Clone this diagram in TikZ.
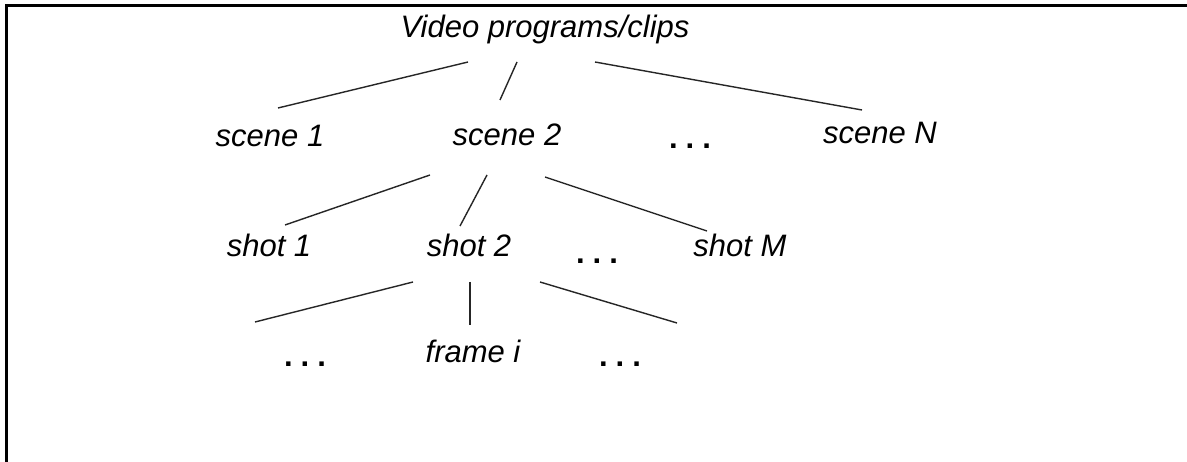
\documentclass[tikz,border=0pt]{standalone}
\usepackage{fontspec}
\setmainfont{Liberation Sans}
\begin{document}
\begin{tikzpicture}[x=1pt,y=-1pt,
  lbl/.style={anchor=base,inner sep=0pt,font=\fontsize{31}{33}\selectfont\itshape},
  dots/.style={anchor=base,inner sep=0pt,font=\fontsize{31}{33}\selectfont\bfseries},
  edge/.style={line width=1.4pt,black!85}]
\useasboundingbox (0,0) rectangle (1187,462);
\fill[white] (0,0) rectangle (1187,462);
\coordinate (tl) at (6,6);
\coordinate (tr) at (1187,6);
\coordinate (bl) at (6,462);
\draw[line width=3pt,line cap=rect] (tr) -- (tl) -- (bl);
% nodes
\node[lbl] (title) at (545,38) {Video programs/clips};
\node[lbl] (s1) at (270,147) {scene 1};
\node[lbl] (s2) at (507,146) {scene 2};
\node[dots] (sd) at (690,149) {.\kern8pt.\kern8pt.};
\node[lbl] (sN) at (880,144) {scene N};
\node[lbl] (h1) at (269,257) {shot 1};
\node[lbl] (h2) at (469,257) {shot 2};
\node[dots] (hd) at (597,264) {.\kern8pt.\kern8pt.};
\node[lbl] (hM) at (740,257) {shot M};
\node[dots] (fl) at (305,367) {.\kern8pt.\kern8pt.};
\node[lbl] (fi) at (473,363) {frame \textit{i}};
\node[dots] (fr) at (620,367) {.\kern8pt.\kern8pt.};
% connectors
\draw[edge] ([shift={(-77,24)}]title.base) -- ([shift={(8,-39)}]s1.base);
\draw[edge] ([shift={(-28,24)}]title.base) -- ([shift={(-7,-46)}]s2.base);
\draw[edge] ([shift={(50,24)}]title.base) -- ([shift={(-18,-34)}]sN.base);
\draw[edge] ([shift={(-77,29)}]s2.base) -- ([shift={(16,-32)}]h1.base);
\draw[edge] ([shift={(-20,29)}]s2.base) -- ([shift={(-9,-31)}]h2.base);
\draw[edge] ([shift={(38,31)}]s2.base) -- ([shift={(-33,-26)}]hM.base);
\draw[edge] ([shift={(-56,25)}]h2.base) -- ([shift={(-50,-45)}]fl.base);
\draw[edge] ([shift={(1,25)}]h2.base) -- ([shift={(-3,-38)}]fi.base);
\draw[edge] ([shift={(71,25)}]h2.base) -- ([shift={(57,-44)}]fr.base);
\end{tikzpicture}
\end{document}
